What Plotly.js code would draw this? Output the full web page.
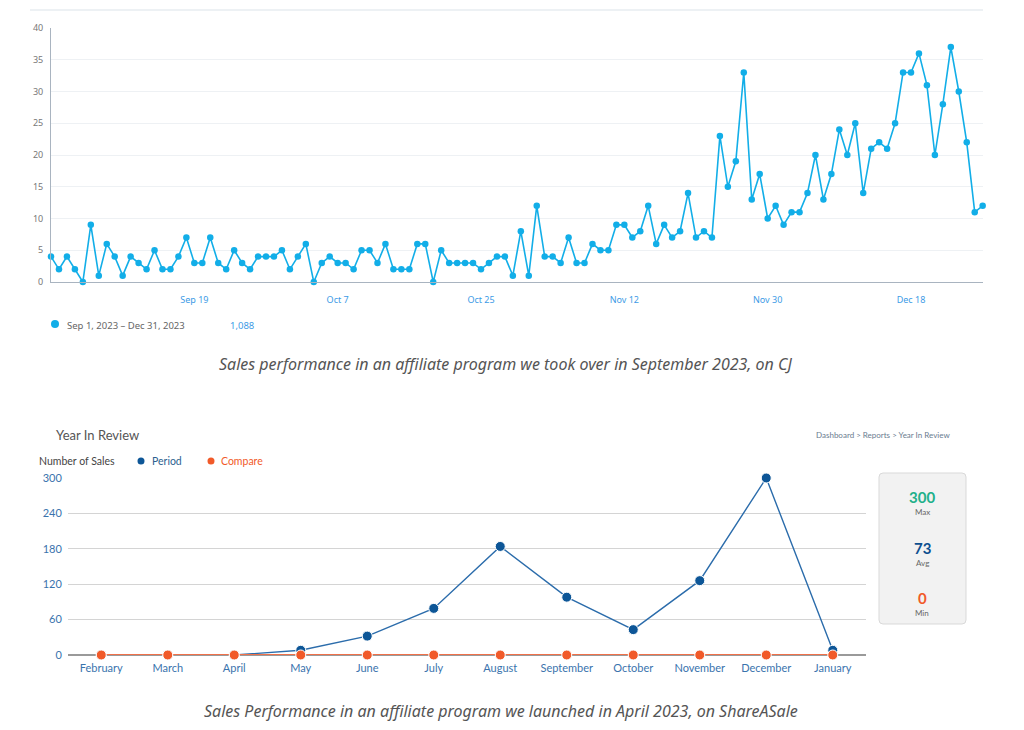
<!DOCTYPE html>
<html>
<head>
<meta charset="utf-8">
<script src="https://cdn.plot.ly/plotly-3.0.1.min.js"></script>
<style>
html,body{margin:0;padding:0;background:#fff;}
#chart{width:1024px;height:730px;}
</style>
</head>
<body>
<div id="chart"></div>
<script>
// ---------- Chart 1 (CJ daily sales) ----------
const cjStartDate = [2023, 8, 1]; // Sep 1, 2023
const cjSales = [
  4,2,4,2,0,9,1,6,4,1,
  4,3,2,5,2,2,4,7,3,3,
  7,3,2,5,3,2,4,4,4,5,
  2,4,6,0,3,4,3,3,2,5,
  5,3,6,2,2,2,6,6,0,5,
  3,3,3,3,2,3,4,4,1,8,
  1,12,4,4,3,7,3,3,6,5,
  5,9,9,7,8,12,6,9,7,8,
  14,7,8,7,23,15,19,33,13,17,
  10,12,9,11,11,14,20,13,17,24,
  20,25,14,21,22,21,25,33,33,36,
  31,20,28,37,30,22,11,12
];
const cjTickDates = ['2023-09-19','2023-10-07','2023-10-25','2023-11-12','2023-11-30','2023-12-18'];
const cjTickLabels = ['Sep 19','Oct 7','Oct 25','Nov 12','Nov 30','Dec 18'];
const cjYTicks = [0,5,10,15,20,25,30,35,40];
const cjLegendLabel = 'Sep 1, 2023 – Dec 31, 2023';
const cjTotal = '1,088';
const caption1 = 'Sales performance in an affiliate program we took over in September 2023, on CJ';

// ---------- Chart 2 (ShareASale monthly) ----------
const months = ['February','March','April','May','June','July','August','September','October','November','December','January'];
const periodSales = [0,0,0,8,32,79,184,98,43,126,300,8];
const compareSales = [0,0,0,0,0,0,0,0,0,0,0,0];
const sasYTicks = [0,60,120,180,240,300];
const statValues = ['300','73','0'];
const statLabels = ['Max','Avg','Min'];
const caption2 = 'Sales Performance in an affiliate program we launched in April 2023, on ShareASale';

// dates for chart 1 x positions
const cjDates = cjSales.map((v, i) => {
  const d = new Date(Date.UTC(cjStartDate[0], cjStartDate[1], cjStartDate[2] + i));
  return d.toISOString().slice(0, 10);
});

const W = 1024, H = 730;
const px = x => x / W;
const py = y => 1 - y / H;

const traces = [
  {
    x: cjDates, y: cjSales, type: 'scatter', mode: 'lines+markers',
    xaxis: 'x', yaxis: 'y',
    line: {color: '#12aee8', width: 1.6},
    marker: {color: '#12aee8', size: 6.5},
    cliponaxis: false, hoverinfo: 'x+y', showlegend: false
  },
  {
    x: months, y: periodSales, type: 'scatter', mode: 'lines+markers',
    xaxis: 'x2', yaxis: 'y2',
    line: {color: '#2b6cab', width: 1.4},
    marker: {color: '#0d5697', size: 10, line: {color: '#ffffff', width: 1}},
    cliponaxis: false, showlegend: false
  },
  {
    x: months, y: compareSales, type: 'scatter', mode: 'lines+markers',
    xaxis: 'x2', yaxis: 'y2',
    line: {color: '#f0714a', width: 2},
    marker: {color: '#f15a29', size: 10, line: {color: '#ffffff', width: 1}},
    cliponaxis: false, showlegend: false
  }
];

// rounded rect path in paper coords
function roundRect(x0, y0, x1, y1, r) {
  const rx = r / W, ry = r / H;
  const X0 = px(x0), X1 = px(x1), Y0 = py(y0), Y1 = py(y1); // Y0 top, Y1 bottom
  return `M ${X0 + rx},${Y0} L ${X1 - rx},${Y0} Q ${X1},${Y0} ${X1},${Y0 - ry} ` +
         `L ${X1},${Y1 + ry} Q ${X1},${Y1} ${X1 - rx},${Y1} ` +
         `L ${X0 + rx},${Y1} Q ${X0},${Y1} ${X0},${Y1 + ry} ` +
         `L ${X0},${Y0 - ry} Q ${X0},${Y0} ${X0 + rx},${Y0} Z`;
}

function dot(xc, yc, r, color) {
  return {type: 'circle', xref: 'paper', yref: 'paper',
    xsizemode: 'pixel', ysizemode: 'pixel', xanchor: px(xc), yanchor: py(yc),
    x0: -r, x1: r, y0: -r, y1: r, fillcolor: color, line: {width: 0}};
}

const statColors = ['#21b08a', '#0d4f8f', '#f15a29'];
const statY = [497, 548, 598];

const annotations = [
  {text: cjLegendLabel, x: px(65), y: py(325), xanchor: 'left', yanchor: 'middle',
   font: {family: 'Noto Sans, sans-serif', size: 9.5, color: '#666'}},
  {text: cjTotal, x: px(228), y: py(325), xanchor: 'left', yanchor: 'middle',
   font: {family: 'Noto Sans, sans-serif', size: 9.5, color: '#3d9be6'}},
  {text: '<i>' + caption1 + '</i>', x: px(505), y: py(364), xanchor: 'center', yanchor: 'middle',
   font: {family: 'Noto Sans, sans-serif', size: 16, color: '#555'}},
  {text: 'Year In Review', x: px(54), y: py(435), xanchor: 'left', yanchor: 'middle',
   font: {family: 'Lato, sans-serif', size: 13, color: '#555'}},
  {text: 'Dashboard &gt; Reports &gt; Year In Review', x: px(952), y: py(435), xanchor: 'right', yanchor: 'middle',
   font: {family: 'Lato, sans-serif', size: 8, color: '#6a7c8f'}},
  {text: 'Number of Sales', x: px(37), y: py(461), xanchor: 'left', yanchor: 'middle',
   font: {family: 'Lato, sans-serif', size: 10.5, color: '#444'}},
  {text: 'Period', x: px(150), y: py(461), xanchor: 'left', yanchor: 'middle',
   font: {family: 'Lato, sans-serif', size: 10.5, color: '#2c5f8f'}},
  {text: 'Compare', x: px(219), y: py(461), xanchor: 'left', yanchor: 'middle',
   font: {family: 'Lato, sans-serif', size: 10.5, color: '#f15a29'}},
  {text: '<i>' + caption2 + '</i>', x: px(501), y: py(711), xanchor: 'center', yanchor: 'middle',
   font: {family: 'Noto Sans, sans-serif', size: 16, color: '#555'}}
];
statValues.forEach((v, i) => {
  annotations.push({text: '<b>' + v + '</b>', x: px(922), y: py(statY[i]), xanchor: 'center', yanchor: 'middle',
    font: {family: 'Lato, sans-serif', size: 15, color: statColors[i]}});
  annotations.push({text: statLabels[i], x: px(922), y: py(statY[i] + 15), xanchor: 'center', yanchor: 'middle',
    font: {family: 'Lato, sans-serif', size: 8, color: '#666'}});
});
annotations.forEach(a => { a.xref = 'paper'; a.yref = 'paper'; a.showarrow = false; });

const shapes = [
  {type: 'line', xref: 'paper', yref: 'paper', x0: px(30), x1: px(983), y0: py(10), y1: py(10),
   line: {color: '#edf1f4', width: 2}},
  dot(55, 324, 4, '#12aee8'),
  dot(141, 461, 3.5, '#0d5697'),
  dot(211, 461, 3.5, '#f15a29'),
  {type: 'path', xref: 'paper', yref: 'paper', path: roundRect(879, 473, 966, 624, 4),
   fillcolor: '#f2f2f2', line: {color: '#d9d9d9', width: 1}, layer: 'below'}
];

const layout = {
  width: W, height: H,
  margin: {l: 0, r: 0, t: 0, b: 0},
  paper_bgcolor: '#ffffff', plot_bgcolor: 'rgba(0,0,0,0)',
  showlegend: false,
  xaxis: {
    type: 'date', domain: [px(51), px(983)],
    range: ['2023-09-01', '2023-12-27 01:00'],
    tickvals: cjTickDates, ticktext: cjTickLabels,
    showgrid: false, zeroline: false,
    showline: true, linecolor: '#a9b4c0', linewidth: 1,
    ticks: 'outside', ticklen: 9, tickcolor: 'rgba(0,0,0,0)',
    tickfont: {family: 'Noto Sans, sans-serif', size: 9, color: '#3d9be6'},
    anchor: 'y'
  },
  yaxis: {
    domain: [py(282), py(28)], range: [0, 40],
    tickvals: cjYTicks,
    showgrid: true, gridcolor: '#eef1f4', gridwidth: 1,
    zeroline: false,
    showline: true, linecolor: '#a9b4c0', linewidth: 1,
    ticks: 'outside', ticklen: 5, tickcolor: 'rgba(0,0,0,0)',
    tickfont: {family: 'Noto Sans, sans-serif', size: 9, color: '#777'},
    anchor: 'x'
  },
  xaxis2: {
    type: 'category', domain: [px(68), px(866)], range: [-0.5, 11.5],
    categoryorder: 'array', categoryarray: months,
    showgrid: false, zeroline: false, showline: false,
    ticks: 'outside', ticklen: 3, tickcolor: 'rgba(0,0,0,0)',
    tickfont: {family: 'Lato, sans-serif', size: 11, color: '#3a73ad'},
    anchor: 'y2'
  },
  yaxis2: {
    domain: [py(655), py(478)], range: [0, 300],
    tickvals: sasYTicks,
    showgrid: true, gridcolor: '#d4d4d4', gridwidth: 1,
    zeroline: true, zerolinecolor: '#9a9a9a', zerolinewidth: 1.5,
    showline: false,
    ticks: 'outside', ticklen: 3, tickcolor: 'rgba(0,0,0,0)',
    tickfont: {family: 'Lato, sans-serif', size: 11, color: '#3a73ad'},
    anchor: 'x2'
  },
  annotations: annotations,
  shapes: shapes
};

Plotly.newPlot('chart', traces, layout, {displayModeBar: false, staticPlot: true});
</script>
</body>
</html>
